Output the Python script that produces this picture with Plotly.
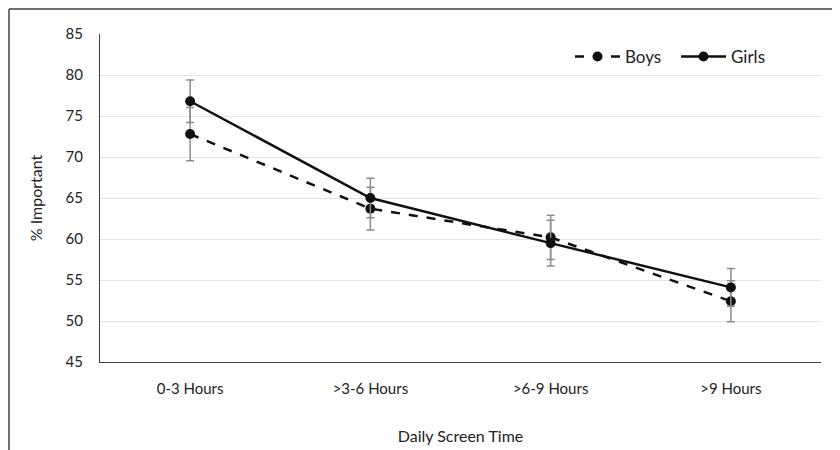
import plotly.graph_objects as go

categories = ["0-3 Hours", ">3-6 Hours", ">6-9 Hours", ">9 Hours"]
boys = [72.8, 63.7, 60.2, 52.4]
boys_err = [3.25, 2.6, 2.7, 2.5]
girls = [76.8, 65.0, 59.5, 54.1]
girls_err = [2.6, 2.4, 2.8, 2.3]
y_ticks = [45, 50, 55, 60, 65, 70, 75, 80, 85]

FONT = "Lato, Open Sans, sans-serif"
LINE_COLOR = "#111111"
ERR_COLOR = "#8c8c8c"

# the page puts the figure 8px from the window edge, so size it to fit
W, H = 832, 442
L, R, T, B = 92, 19, 26, 88
PW, PH = W - L - R, H - T - B

fig = go.Figure()
fig.add_trace(go.Scatter(
    x=categories, y=boys, name="Boys", mode="lines+markers",
    line=dict(color=LINE_COLOR, width=2.5, dash="dash"),
    marker=dict(size=10, color=LINE_COLOR),
    error_y=dict(type="data", array=boys_err, color=ERR_COLOR, thickness=1.5, width=4),
))
fig.add_trace(go.Scatter(
    x=categories, y=girls, name="Girls", mode="lines+markers",
    line=dict(color=LINE_COLOR, width=2.5),
    marker=dict(size=10, color=LINE_COLOR),
    error_y=dict(type="data", array=girls_err, color=ERR_COLOR, thickness=1.5, width=4),
))

fig.update_layout(
    width=W, height=H,
    margin=dict(l=L, r=R, t=T, b=B, autoexpand=False),
    paper_bgcolor="white", plot_bgcolor="white",
    font=dict(family=FONT, size=15, color="#222222"),
    showlegend=True,
    legend=dict(orientation="h", x=(570 - 100) / PW, xanchor="left", y=0.93, yanchor="middle",
                font=dict(size=17, color="#222222"), bgcolor="rgba(0,0,0,0)",
                itemwidth=45, entrywidth=46, entrywidthmode="pixels", tracegroupgap=0),
    xaxis=dict(
        type="category", range=[-0.5, 3.5],
        showgrid=False, showline=True, linecolor="#404040", linewidth=1.2,
        ticks="", ticklabelstandoff=13,
        tickfont=dict(size=15),
        title=dict(text="Daily Screen Time", font=dict(size=16), standoff=34),
    ),
    yaxis=dict(
        range=[45, 85], tickvals=y_ticks, ticktext=[str(v) for v in y_ticks],
        showgrid=True, gridcolor="#e3e3e3", gridwidth=1,
        showline=True, linecolor="#404040", linewidth=1.2,
        ticks="", ticklabelstandoff=13, zeroline=False,
        tickfont=dict(size=15),
        title=dict(text="% Important", font=dict(size=16), standoff=18),
    ),
    shapes=[
        dict(type="line", xref="paper", yref="paper",
             x0=(1 - L) / PW, x1=(W + 5 - L) / PW,
             y0=(T + PH - 1) / PH, y1=(T + PH - 1) / PH,
             line=dict(color="#404040", width=1.5)),
        dict(type="line", xref="paper", yref="paper",
             x0=(1 - L) / PW, x1=(1 - L) / PW,
             y0=(T + PH - 1) / PH, y1=(T + PH - H - 5) / PH,
             line=dict(color="#404040", width=1.5)),
    ],
)

fig.write_html("out.html")
